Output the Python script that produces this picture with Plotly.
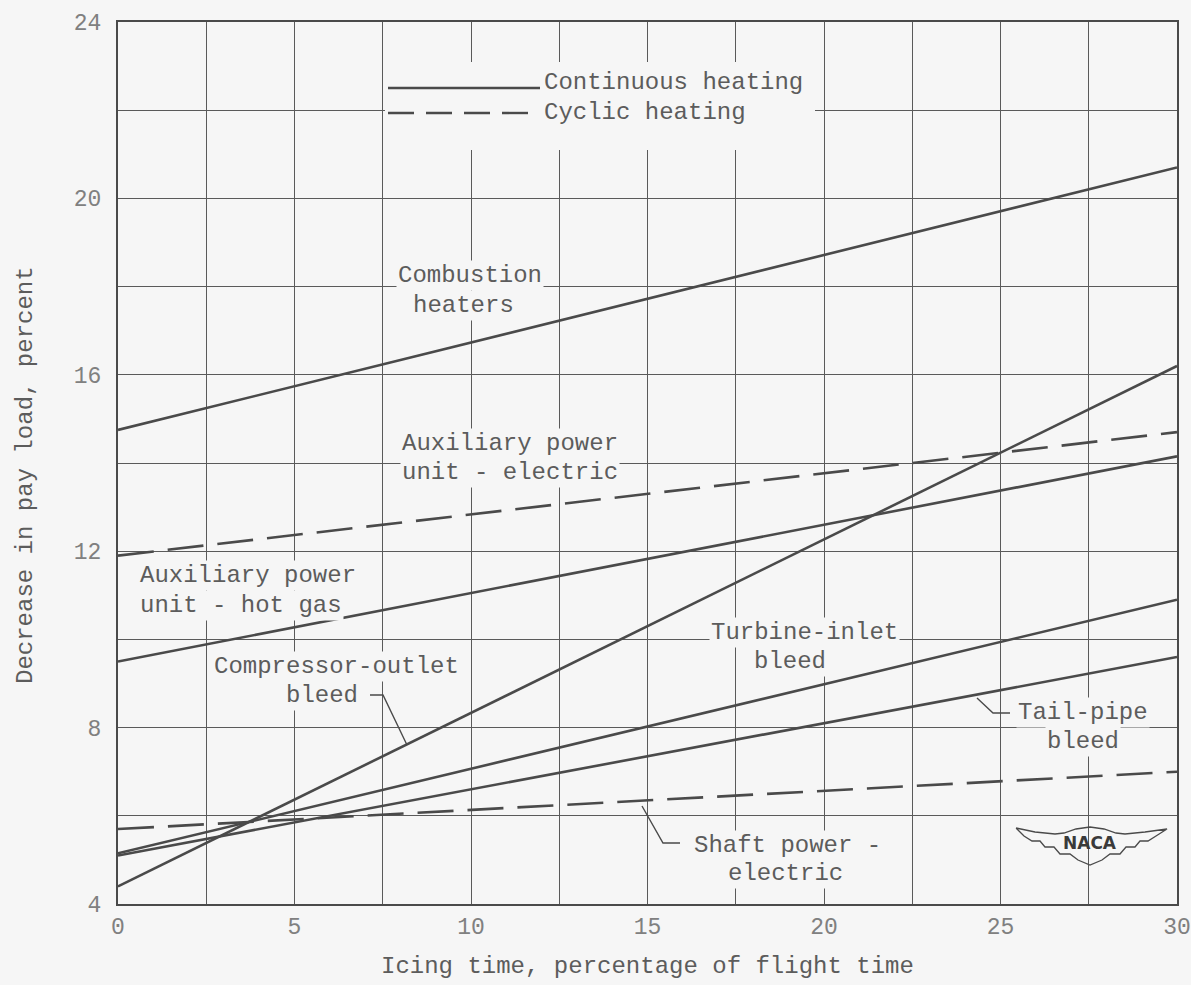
import plotly.graph_objects as go

# Icing time (percentage of flight time) at the ends of each straight-line curve
icing_time = [0, 30]

# Decrease in pay load, percent
combustion_heaters = [14.75, 20.7]
apu_electric = [11.9, 14.7]          # cyclic
apu_hot_gas = [9.5, 14.15]
compressor_outlet_bleed = [4.4, 16.2]
turbine_inlet_bleed = [5.15, 10.9]
tail_pipe_bleed = [5.1, 9.6]
shaft_power_electric = [5.7, 7.0]    # cyclic

x_ticks = [0, 5, 10, 15, 20, 25, 30]
y_ticks = [4, 8, 12, 16, 20, 24]

BG = "#f6f6f6"
INK = "#4a4a4a"
TEXT = "#5c5c5c"
FONT = "Liberation Mono"

fig = go.Figure()

series = [
    (combustion_heaters, "solid"),
    (apu_electric, "36px,14px"),
    (apu_hot_gas, "solid"),
    (compressor_outlet_bleed, "solid"),
    (turbine_inlet_bleed, "solid"),
    (tail_pipe_bleed, "solid"),
    (shaft_power_electric, "36px,14px"),
]
for values, dash in series:
    fig.add_trace(go.Scatter(
        x=icing_time, y=values, mode="lines",
        line=dict(color=INK, width=2.6, dash=dash),
        showlegend=False, hoverinfo="skip",
    ))

# helpers to place decorations by pixel-like offsets within the plot area
X0, X1, Y0, Y1 = 118, 1177, 904, 22


def dx(px):
    return (px - X0) / (X1 - X0) * 30


def dy(py):
    return 4 + (Y0 - py) / (Y0 - Y1) * 20


def seg(points, dash="solid", width=1.4):
    path = "M " + " L ".join(f"{dx(p[0]):.4f},{dy(p[1]):.4f}" for p in points)
    fig.add_shape(type="path", path=path, xref="x", yref="y",
                  line=dict(color=INK, width=width, dash=dash), layer="above")


# blank box behind the key
fig.add_shape(type="rect", x0=dx(385), x1=dx(815), y0=dy(150), y1=dy(62),
              xref="x", yref="y", fillcolor=BG, line=dict(width=0), layer="between")

# key
seg([(388, 88), (540, 88)], width=2.4)
seg([(388, 113), (540, 113)], dash="26px,12px", width=2.4)


def label(text, px, py, anchor="center", bg=True):
    fig.add_annotation(
        x=dx(px), y=dy(py), xref="x", yref="y", text=text, showarrow=False,
        xanchor=anchor, yanchor="middle",
        font=dict(family=FONT, size=24, color=TEXT),
        bgcolor=BG if bg else None, borderpad=1,
    )


label("Continuous heating", 542, 82, "left")
label("Cyclic heating", 542, 112, "left")
label("Combustion", 470, 275)
label("heaters", 463, 305)
label("Auxiliary power", 400, 443, "left")
label("unit - electric", 400, 472, "left")
label("Auxiliary power", 138, 575, "left")
label("unit - hot gas", 138, 605, "left")
label("Compressor-outlet", 336, 666)
label("bleed", 322, 695)
label("Turbine-inlet", 804, 632)
label("bleed", 790, 661)
label("Tail-pipe", 1083, 712)
label("bleed", 1083, 741)
label("Shaft power -", 787, 845)
label("electric", 785, 873)

# leader lines
seg([(370, 695), (383, 695), (407, 745)])
seg([(977, 698), (993, 713), (1010, 713)])
seg([(642, 806), (663, 843), (680, 843)])

# NACA wings emblem
cx, cy = 1090, 846
wing = [(-74, -18), (-55, -14), (-35, -12), (-26, -13), (-14, -17), (0, -19),
        (14, -17), (26, -13), (35, -12), (55, -14), (77, -17),
        (66, -10), (58, -5), (50, -5), (45, 1), (36, 1), (30, 8), (20, 8),
        (12, 14), (0, 19), (-12, 14), (-20, 8), (-30, 8), (-36, 1), (-45, 1),
        (-50, -5), (-58, -5), (-66, -10), (-74, -18)]
seg([(cx + a, cy + b) for a, b in wing], width=1.3)
fig.add_annotation(x=dx(cx), y=dy(cy - 3), xref="x", yref="y", text="<b>NACA</b>",
                   showarrow=False, font=dict(family="DejaVu Sans", size=17, color="#3a3a3a"))

# axis titles
fig.add_annotation(x=0.5, y=(Y0 - 966) / (Y0 - Y1), xref="paper", yref="paper",
                   text="Icing time, percentage of flight time", showarrow=False,
                   xanchor="center", yanchor="middle",
                   font=dict(family=FONT, size=24, color=TEXT))
fig.add_annotation(x=(25 - X0) / (X1 - X0), y=(Y0 - 475) / (Y0 - Y1), xref="paper", yref="paper",
                   text="Decrease in pay load, percent", showarrow=False, textangle=-90,
                   xanchor="center", yanchor="middle",
                   font=dict(family=FONT, size=24, color=TEXT))

grid = dict(showgrid=True, gridcolor="#5a5a5a", gridwidth=1.2)

fig.update_xaxes(
    range=[0, 30], tickvals=x_ticks, ticktext=[str(v) for v in x_ticks],
    ticks="", ticklabelstandoff=1, automargin=False,
    tickfont=dict(family=FONT, size=23, color="#808080"),
    showline=True, linecolor=INK, linewidth=1.6, mirror=True, zeroline=False,
    minor=dict(dtick=2.5, **grid), **grid,
)
fig.update_yaxes(
    range=[4, 24], tickvals=y_ticks, ticktext=[str(v) for v in y_ticks],
    ticks="", ticklabelstandoff=10, automargin=False,
    tickfont=dict(family=FONT, size=23, color="#808080"),
    showline=True, linecolor=INK, linewidth=2.2, mirror=True, zeroline=False,
    minor=dict(dtick=2, **grid), **grid,
)

fig.update_layout(
    width=1191, height=985,
    margin=dict(l=118, r=14, t=22, b=81),
    paper_bgcolor=BG, plot_bgcolor=BG,
)

fig.write_html("out.html")
